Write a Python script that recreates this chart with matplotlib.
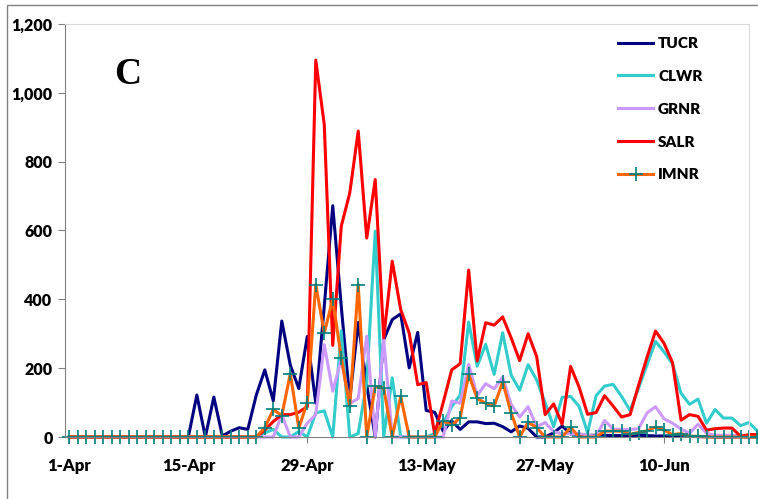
import datetime as dt
import matplotlib
matplotlib.use('Agg')
from matplotlib import pyplot as plt
from matplotlib.patches import Rectangle

# daily values, 1-Apr .. 21-Jun
start = dt.date(2000, 4, 1)
n_days = 82
days = list(range(n_days))

tucr = [0] * 14 + [0, 122, 0, 116, 3, 17, 27, 22, 122, 195, 105, 337, 209, 141, 292, 98,
                   380, 672, 380, 109, 333, 150, 0, 283, 341, 358, 201, 304, 77, 72, 17, 47,
                   22, 44, 44, 39, 40, 30, 15, 32, 25, 0, 0, 12, 32, 9, 8, 5, 5, 5, 4, 4,
                   3, 5, 4, 3, 3, 2, 2, 2, 1, 1, 0, 0, 0, 1, 0, 0]
clwr = [0] * 23 + [12, 22, 0, 0, 16, 0, 70, 76, 0, 308, 0, 10, 160, 598, 0, 172, 0, 0, 0,
                   0, 10, 40, 88, 122, 334, 206, 269, 182, 303, 180, 136, 210, 166, 100, 30,
                   115, 118, 89, 12, 120, 148, 153, 118, 77, 142, 210, 278, 247, 212, 127,
                   95, 110, 40, 80, 55, 55, 33, 42, 17]
grnr = [0] * 25 + [65, 0, 0, 40, 65, 268, 133, 225, 97, 112, 293, 0, 284, 0, 0, 0, 0, 0, 0,
                   0, 105, 98, 211, 120, 155, 140, 174, 95, 58, 88, 30, 42, 16, 9, 10, 10, 5,
                   3, 48, 23, 22, 22, 24, 70, 88, 53, 40, 23, 11, 37, 11, 5, 5, 5, 3, 3, 3]
salr = [0] * 23 + [20, 45, 65, 65, 72, 88, 1095, 908, 266, 612, 709, 889, 578, 748, 288,
                   511, 370, 302, 152, 158, 8, 100, 195, 213, 485, 221, 332, 325, 349, 288,
                   222, 300, 234, 65, 96, 37, 205, 145, 66, 71, 120, 90, 58, 65, 150, 232,
                   308, 272, 216, 49, 65, 60, 20, 24, 26, 26, 2, 7, 7]
imnr = [0] * 23 + [27, 80, 62, 184, 26, 100, 443, 302, 401, 230, 89, 443, 0, 147, 142, 0,
                   118, 0, 0, 0, 0, 47, 34, 56, 182, 112, 98, 90, 160, 70, 0, 43, 27, 0, 0,
                   0, 28, 0, 0, 0, 17, 17, 17, 8, 13, 18, 29, 20, 7, 10, 2, 2, 0, 0, 0, 0,
                   0, 0, 0]

tick_days = [0, 14, 28, 42, 56, 70]
tick_labels = [(start + dt.timedelta(days=d)).strftime('%-d-%b') for d in tick_days]
y_ticks = [0, 200, 400, 600, 800, 1000, 1200]

plt.rcParams['font.family'] = ['Lato', 'DejaVu Sans']

fig = plt.figure(figsize=(7.58, 4.99), dpi=100)
ax = fig.add_axes([65 / 758, 1 - 437 / 499, 684 / 758, 413 / 499])

lw = 2.2
ax.plot(days, tucr, color='#000080', linewidth=lw, label='TUCR', clip_on=False)
ax.plot(days, clwr, color='#33CCCC', linewidth=lw, label='CLWR', clip_on=False)
ax.plot(days, grnr, color='#CC99FF', linewidth=lw, label='GRNR', clip_on=False)
ax.plot(days, salr, color='#FF0000', linewidth=lw, label='SALR', clip_on=False)
ax.plot(days, imnr, color='#FF6600', linewidth=lw, marker='+', markersize=10,
        markeredgecolor='#008080', markeredgewidth=1.2, label='IMNR', clip_on=False)

ax.set_xlim(-0.52, 80)
ax.set_ylim(0, 1200)
ax.set_xticks(tick_days)
ax.set_xticklabels(tick_labels, fontweight='heavy', fontsize=12)
ax.set_yticks(y_ticks)
ax.set_yticklabels(['{:,}'.format(v) for v in y_ticks], fontweight='heavy', fontsize=11.5)
ax.tick_params(axis='x', length=4, color='#808080', pad=11)
ax.tick_params(axis='y', length=5, color='#808080', pad=4)

for s in ['left', 'bottom']:
    ax.spines[s].set_color('#808080')
for s in ['top', 'right']:
    ax.spines[s].set_color('#D9D9D9')

ax.text(0.092, 0.877, 'C', transform=ax.transAxes, fontsize=27, fontweight='bold',
        family='Liberation Serif', va='center', ha='center')

leg = ax.legend(loc='upper left', bbox_to_anchor=(0.79, 1.0), frameon=False,
                prop={'weight': 'heavy', 'size': 11}, labelspacing=1.3,
                handlelength=2.3, handletextpad=0.3, borderaxespad=0.45)

# outer chart border
fig.patches.append(Rectangle((7 / 758, -0.1), 1.1, 1.1 - 5 / 499, transform=fig.transFigure,
                             fill=False, edgecolor='#808080', linewidth=1))

fig.savefig('out.png', dpi=100)
